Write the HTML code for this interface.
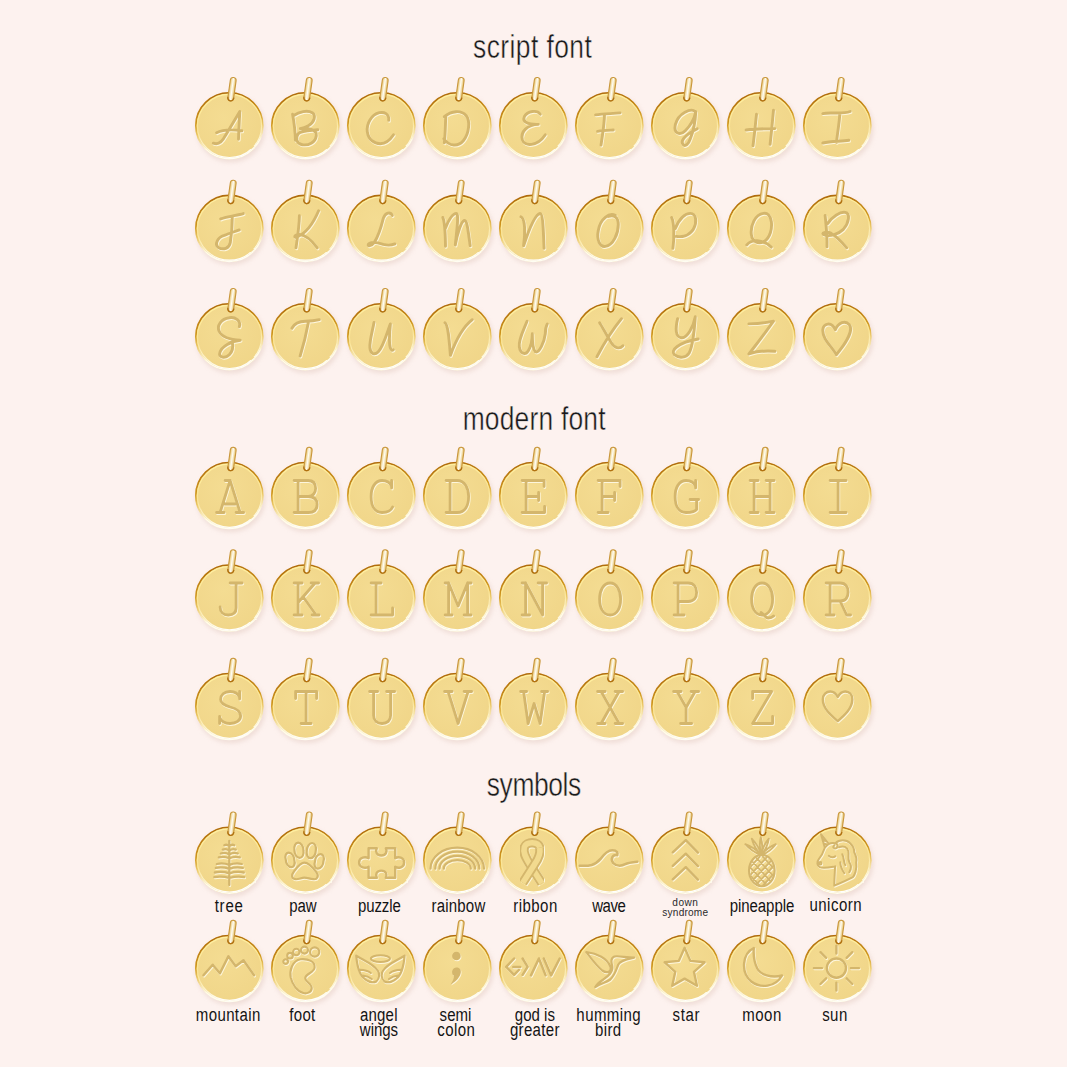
<!DOCTYPE html>
<html><head><meta charset="utf-8"><style>
html,body{margin:0;padding:0;background:#fdf2ef;width:1067px;height:1067px;overflow:hidden}
svg{display:block}

</style></head><body>
<svg width="1067" height="1067" viewBox="0 0 1067 1067">
<defs>
 <radialGradient id="face" cx="0.42" cy="0.38" r="0.7">
  <stop offset="0" stop-color="#f4dc92"/>
  <stop offset="1" stop-color="#f0d588"/>
 </radialGradient>
 <linearGradient id="rim" x1="0.4" y1="0.0" x2="0.58" y2="1.0">
  <stop offset="0" stop-color="#b06c0c"/>
  <stop offset="0.38" stop-color="#cf961f"/>
  <stop offset="0.56" stop-color="#ecc968"/>
  <stop offset="0.8" stop-color="#fffbea"/>
  <stop offset="1" stop-color="#fffdf2"/>
 </linearGradient>
 <linearGradient id="rim2" x1="0.4" y1="0.0" x2="0.58" y2="1.0">
  <stop offset="0" stop-color="#fff0a0"/>
  <stop offset="0.5" stop-color="#fbe596"/>
  <stop offset="1" stop-color="#ffffff"/>
 </linearGradient>
 <linearGradient id="bail" x1="0" y1="0" x2="1" y2="0">
  <stop offset="0" stop-color="#e6c26a"/>
  <stop offset="0.5" stop-color="#fffdf4"/>
  <stop offset="1" stop-color="#e3bd62"/>
 </linearGradient>
 <filter id="soft" x="-10%" y="-10%" width="120%" height="120%"><feGaussianBlur stdDeviation="0.45"/></filter>
 <filter id="hammer" x="-10%" y="-10%" width="120%" height="120%"><feTurbulence type="fractalNoise" baseFrequency="0.07" numOctaves="1" seed="5"/><feDisplacementMap in="SourceGraphic" scale="2.0" xChannelSelector="R" yChannelSelector="G"/></filter>
 <filter id="blur" x="-30%" y="-30%" width="160%" height="160%"><feGaussianBlur stdDeviation="2.2"/></filter>
 <g id="charm">
  <ellipse cx="1.5" cy="2.5" rx="35" ry="34.3" fill="#e6cfc6" opacity="0.55" filter="url(#blur)"/>
  <ellipse cx="0" cy="0" rx="34.0" ry="33.5" fill="url(#face)"/>
  <g filter="url(#hammer)" fill="none">
   <ellipse cx="0" cy="0" rx="33.5" ry="33.0" stroke="url(#rim)" stroke-width="1.6"/>
   <ellipse cx="0.2" cy="0.2" rx="32.1" ry="31.6" stroke="url(#rim2)" stroke-width="1.2"/>
  </g>
  <g transform="rotate(8 2.5 -36)">
   <rect x="-0.3" y="-48.3" width="5.8" height="23.6" rx="2.9" fill="url(#bail)" stroke="#c9973c" stroke-width="1.1"/>
   <path d="M -0.4,-28.5 C -0.3,-25.8 1.5,-24.8 2.6,-24.8 C 3.8,-24.8 5.6,-26 5.7,-28.5" fill="none" stroke="#b07010" stroke-width="1.3"/>
  </g>
 </g>
</defs>

<g transform="translate(532.40,57.60) scale(0.8,1)"><text x="0" y="0" text-anchor="middle" style="font-family:'Liberation Sans',sans-serif" font-size="33" fill="#1a1a1a" stroke="#fdf2ef" stroke-width="0.45" textLength="148.50" lengthAdjust="spacing">script font</text></g>
<g transform="translate(534.10,429.70) scale(0.8,1)"><text x="0" y="0" text-anchor="middle" style="font-family:'Liberation Sans',sans-serif" font-size="33" fill="#1a1a1a" stroke="#fdf2ef" stroke-width="0.45" textLength="178.65" lengthAdjust="spacing">modern font</text></g>
<g transform="translate(534.00,796.40) scale(0.8,1)"><text x="0" y="0" text-anchor="middle" style="font-family:'Liberation Sans',sans-serif" font-size="33" fill="#1a1a1a" stroke="#fdf2ef" stroke-width="0.45" textLength="117.95" lengthAdjust="spacing">symbols</text></g>
<use href="#charm" x="229.3" y="125.7"/>
<g transform="translate(230.00,126.70)" opacity="0.9" filter="url(#soft)"><path d="M -16,17.5 C -11,19.5 -7,16 -4,10 L 10.5,-14.2 C 10,-5 9.5,5 9.2,13.5 M -12.7,7 C -5,3 5,4 12.6,5" fill="none" stroke="#fffae6" stroke-width="2.9" stroke-linecap="round" stroke-linejoin="round"/></g><g transform="translate(229.30,125.70)" filter="url(#soft)"><path d="M -16,17.5 C -11,19.5 -7,16 -4,10 L 10.5,-14.2 C 10,-5 9.5,5 9.2,13.5 M -12.7,7 C -5,3 5,4 12.6,5" fill="none" stroke="#d4b66c" stroke-width="2.9" stroke-linecap="round" stroke-linejoin="round"/></g>
<use href="#charm" x="305.3" y="125.7"/>
<g transform="translate(306.00,126.70)" opacity="0.9" filter="url(#soft)"><path d="M -12.7,-11.5 C -11,-2 -10,8 -9.9,14.6 M -12,-10 C -6,-14 2,-16 7,-13 C 11,-10 9,-3 3,0 C -1,2 -5,3 -5,3 C 3,2 12,4 11,10 C 10,17 3,20 -3,19 C -9,18 -10,12 -7,8 C -4,5 5,5 12.5,4" fill="none" stroke="#fffae6" stroke-width="2.9" stroke-linecap="round" stroke-linejoin="round"/></g><g transform="translate(305.30,125.70)" filter="url(#soft)"><path d="M -12.7,-11.5 C -11,-2 -10,8 -9.9,14.6 M -12,-10 C -6,-14 2,-16 7,-13 C 11,-10 9,-3 3,0 C -1,2 -5,3 -5,3 C 3,2 12,4 11,10 C 10,17 3,20 -3,19 C -9,18 -10,12 -7,8 C -4,5 5,5 12.5,4" fill="none" stroke="#d4b66c" stroke-width="2.9" stroke-linecap="round" stroke-linejoin="round"/></g>
<use href="#charm" x="381.3" y="125.7"/>
<g transform="translate(382.00,126.70)" opacity="0.9" filter="url(#soft)"><path d="M 7.4,-5.3 C 8,-12 3,-14 -2,-13 C -10,-11 -15,-2 -14,6 C -13,14 -7,18 -1,18 C 4,18 9,14 12.2,9.1" fill="none" stroke="#fffae6" stroke-width="2.9" stroke-linecap="round" stroke-linejoin="round"/></g><g transform="translate(381.30,125.70)" filter="url(#soft)"><path d="M 7.4,-5.3 C 8,-12 3,-14 -2,-13 C -10,-11 -15,-2 -14,6 C -13,14 -7,18 -1,18 C 4,18 9,14 12.2,9.1" fill="none" stroke="#d4b66c" stroke-width="2.9" stroke-linecap="round" stroke-linejoin="round"/></g>
<use href="#charm" x="457.3" y="125.7"/>
<g transform="translate(458.00,126.70)" opacity="0.9" filter="url(#soft)"><path d="M -11.5,-10 C -12,0 -12,10 -13,17 M -13,-9 C -6,-15 4,-16 9,-10 C 13,-5 12,8 6,15 C 1,21 -8,21 -13.5,13" fill="none" stroke="#fffae6" stroke-width="2.9" stroke-linecap="round" stroke-linejoin="round"/></g><g transform="translate(457.30,125.70)" filter="url(#soft)"><path d="M -11.5,-10 C -12,0 -12,10 -13,17 M -13,-9 C -6,-15 4,-16 9,-10 C 13,-5 12,8 6,15 C 1,21 -8,21 -13.5,13" fill="none" stroke="#d4b66c" stroke-width="2.9" stroke-linecap="round" stroke-linejoin="round"/></g>
<use href="#charm" x="533.3" y="125.7"/>
<g transform="translate(534.00,126.70)" opacity="0.9" filter="url(#soft)"><path d="M 7,-11.5 C 4,-16 -6,-15 -9,-9 C -11,-4 -6,-1 5,-1.3 C -6,-1 -13,6 -11,14 C -9,21 4,21 12,9" fill="none" stroke="#fffae6" stroke-width="2.9" stroke-linecap="round" stroke-linejoin="round"/></g><g transform="translate(533.30,125.70)" filter="url(#soft)"><path d="M 7,-11.5 C 4,-16 -6,-15 -9,-9 C -11,-4 -6,-1 5,-1.3 C -6,-1 -13,6 -11,14 C -9,21 4,21 12,9" fill="none" stroke="#d4b66c" stroke-width="2.9" stroke-linecap="round" stroke-linejoin="round"/></g>
<use href="#charm" x="609.3" y="125.7"/>
<g transform="translate(610.00,126.70)" opacity="0.9" filter="url(#soft)"><path d="M -13.7,-10.8 C -6,-12 3,-12 10.8,-12.8 M -4.8,-11.4 C -5,0 -7,10 -8.3,19.4 M -11.7,5.7 C -6,4.5 0,4.5 4,4.3" fill="none" stroke="#fffae6" stroke-width="2.9" stroke-linecap="round" stroke-linejoin="round"/></g><g transform="translate(609.30,125.70)" filter="url(#soft)"><path d="M -13.7,-10.8 C -6,-12 3,-12 10.8,-12.8 M -4.8,-11.4 C -5,0 -7,10 -8.3,19.4 M -11.7,5.7 C -6,4.5 0,4.5 4,4.3" fill="none" stroke="#d4b66c" stroke-width="2.9" stroke-linecap="round" stroke-linejoin="round"/></g>
<use href="#charm" x="685.3" y="125.7"/>
<g transform="translate(686.00,126.70)" opacity="0.9" filter="url(#soft)"><path d="M 10,-14 C 6,-18 -7,-13 -10,-1 C -12,8 -5,10 0,5 C 5,0 9,-7 10.5,-14 C 10,-5 8,6 5,13 C 3,19 0,21 -2,19 C -5,16 -2,10 12,3" fill="none" stroke="#fffae6" stroke-width="2.9" stroke-linecap="round" stroke-linejoin="round"/></g><g transform="translate(685.30,125.70)" filter="url(#soft)"><path d="M 10,-14 C 6,-18 -7,-13 -10,-1 C -12,8 -5,10 0,5 C 5,0 9,-7 10.5,-14 C 10,-5 8,6 5,13 C 3,19 0,21 -2,19 C -5,16 -2,10 12,3" fill="none" stroke="#d4b66c" stroke-width="2.9" stroke-linecap="round" stroke-linejoin="round"/></g>
<use href="#charm" x="761.3" y="125.7"/>
<g transform="translate(762.00,126.70)" opacity="0.9" filter="url(#soft)"><path d="M -4.8,-11.4 C -6,0 -7,10 -8.3,20 M 12.2,-15.5 C 11,-3 10,8 8.8,18.7 M -15.2,4.3 C -6,3 4,3 13.6,2.9" fill="none" stroke="#fffae6" stroke-width="2.9" stroke-linecap="round" stroke-linejoin="round"/></g><g transform="translate(761.30,125.70)" filter="url(#soft)"><path d="M -4.8,-11.4 C -6,0 -7,10 -8.3,20 M 12.2,-15.5 C 11,-3 10,8 8.8,18.7 M -15.2,4.3 C -6,3 4,3 13.6,2.9" fill="none" stroke="#d4b66c" stroke-width="2.9" stroke-linecap="round" stroke-linejoin="round"/></g>
<use href="#charm" x="837.3" y="125.7"/>
<g transform="translate(838.00,126.70)" opacity="0.9" filter="url(#soft)"><path d="M -14.5,-12.1 C -8,-14 4,-11 12.9,-14.2 M 2.6,-12.8 C 2,-2 0,8 -0.8,16.6 M -14.5,17.3 C -6,15 4,16 11.5,14.6" fill="none" stroke="#fffae6" stroke-width="2.9" stroke-linecap="round" stroke-linejoin="round"/></g><g transform="translate(837.30,125.70)" filter="url(#soft)"><path d="M -14.5,-12.1 C -8,-14 4,-11 12.9,-14.2 M 2.6,-12.8 C 2,-2 0,8 -0.8,16.6 M -14.5,17.3 C -6,15 4,16 11.5,14.6" fill="none" stroke="#d4b66c" stroke-width="2.9" stroke-linecap="round" stroke-linejoin="round"/></g>
<use href="#charm" x="229.3" y="228.4"/>
<g transform="translate(230.00,229.40)" opacity="0.9" filter="url(#soft)"><path d="M -8.6,-9.5 C -3,-12 8,-13 14,-14.8 M 3,-12 C 3,-2 2,8 1,14 C 0,20 -6,22 -11,19 C -15,16 -12,9 -5,7 C 0,5 6,3 10,1.5" fill="none" stroke="#fffae6" stroke-width="2.9" stroke-linecap="round" stroke-linejoin="round"/></g><g transform="translate(229.30,228.40)" filter="url(#soft)"><path d="M -8.6,-9.5 C -3,-12 8,-13 14,-14.8 M 3,-12 C 3,-2 2,8 1,14 C 0,20 -6,22 -11,19 C -15,16 -12,9 -5,7 C 0,5 6,3 10,1.5" fill="none" stroke="#d4b66c" stroke-width="2.9" stroke-linecap="round" stroke-linejoin="round"/></g>
<use href="#charm" x="305.3" y="228.4"/>
<g transform="translate(306.00,229.40)" opacity="0.9" filter="url(#soft)"><path d="M -5.9,-12.7 C -6,-2 -8,10 -9.3,19.4 M 13.3,-17.6 C 8,-5 0,5 -8,8.5 C -12,10 -11,6 -6,6 C 2,7 8,14 12,19.5" fill="none" stroke="#fffae6" stroke-width="2.9" stroke-linecap="round" stroke-linejoin="round"/></g><g transform="translate(305.30,228.40)" filter="url(#soft)"><path d="M -5.9,-12.7 C -6,-2 -8,10 -9.3,19.4 M 13.3,-17.6 C 8,-5 0,5 -8,8.5 C -12,10 -11,6 -6,6 C 2,7 8,14 12,19.5" fill="none" stroke="#d4b66c" stroke-width="2.9" stroke-linecap="round" stroke-linejoin="round"/></g>
<use href="#charm" x="381.3" y="228.4"/>
<g transform="translate(382.00,229.40)" opacity="0.9" filter="url(#soft)"><path d="M 11,-13 C 9,-17 4,-16 2,-10 C 0,-2 -3,8 -7,14 C -10,18 -14,18 -13,16 C -11,13 -4,14 2,16 C 6,17 10,17 13.6,15.5" fill="none" stroke="#fffae6" stroke-width="2.9" stroke-linecap="round" stroke-linejoin="round"/></g><g transform="translate(381.30,228.40)" filter="url(#soft)"><path d="M 11,-13 C 9,-17 4,-16 2,-10 C 0,-2 -3,8 -7,14 C -10,18 -14,18 -13,16 C -11,13 -4,14 2,16 C 6,17 10,17 13.6,15.5" fill="none" stroke="#d4b66c" stroke-width="2.9" stroke-linecap="round" stroke-linejoin="round"/></g>
<use href="#charm" x="457.3" y="228.4"/>
<g transform="translate(458.00,229.40)" opacity="0.9" filter="url(#soft)"><path d="M -14.5,-11 C -12,-5 -12,8 -11.8,18 M -12,0 C -8,-10 -4,-15 -1,-15 C 2,-15 -1,6 -2,16.6 C 0,5 4,-7 7,-8 C 10,-9 11,5 12.9,17.3" fill="none" stroke="#fffae6" stroke-width="2.9" stroke-linecap="round" stroke-linejoin="round"/></g><g transform="translate(457.30,228.40)" filter="url(#soft)"><path d="M -14.5,-11 C -12,-5 -12,8 -11.8,18 M -12,0 C -8,-10 -4,-15 -1,-15 C 2,-15 -1,6 -2,16.6 C 0,5 4,-7 7,-8 C 10,-9 11,5 12.9,17.3" fill="none" stroke="#d4b66c" stroke-width="2.9" stroke-linecap="round" stroke-linejoin="round"/></g>
<use href="#charm" x="533.3" y="228.4"/>
<g transform="translate(534.00,229.40)" opacity="0.9" filter="url(#soft)"><path d="M -12.4,-11.6 C -8,-10 -8,5 -9.7,17.3 C -4,0 2,-14 6.7,-14.9 C 10,-15 10,5 10.8,20" fill="none" stroke="#fffae6" stroke-width="2.9" stroke-linecap="round" stroke-linejoin="round"/></g><g transform="translate(533.30,228.40)" filter="url(#soft)"><path d="M -12.4,-11.6 C -8,-10 -8,5 -9.7,17.3 C -4,0 2,-14 6.7,-14.9 C 10,-15 10,5 10.8,20" fill="none" stroke="#d4b66c" stroke-width="2.9" stroke-linecap="round" stroke-linejoin="round"/></g>
<use href="#charm" x="609.3" y="228.4"/>
<g transform="translate(610.00,229.40)" opacity="0.9" filter="url(#soft)"><path d="M 6,-13 C 0,-16 -9,-10 -11,2 C -13,12 -9,19 -4,18 C 4,17 9,5 9,-4 C 9,-11 5,-14 -1,-12" fill="none" stroke="#fffae6" stroke-width="2.9" stroke-linecap="round" stroke-linejoin="round"/></g><g transform="translate(609.30,228.40)" filter="url(#soft)"><path d="M 6,-13 C 0,-16 -9,-10 -11,2 C -13,12 -9,19 -4,18 C 4,17 9,5 9,-4 C 9,-11 5,-14 -1,-12" fill="none" stroke="#d4b66c" stroke-width="2.9" stroke-linecap="round" stroke-linejoin="round"/></g>
<use href="#charm" x="685.3" y="228.4"/>
<g transform="translate(686.00,229.40)" opacity="0.9" filter="url(#soft)"><path d="M -13.7,-10.9 C -11,-6 -11,10 -12.4,20 M -10,0 C -6,-10 0,-15 5,-15 C 11,-15 12,-6 8,1 C 4,7 -3,9 -9,8" fill="none" stroke="#fffae6" stroke-width="2.9" stroke-linecap="round" stroke-linejoin="round"/></g><g transform="translate(685.30,228.40)" filter="url(#soft)"><path d="M -13.7,-10.9 C -11,-6 -11,10 -12.4,20 M -10,0 C -6,-10 0,-15 5,-15 C 11,-15 12,-6 8,1 C 4,7 -3,9 -9,8" fill="none" stroke="#d4b66c" stroke-width="2.9" stroke-linecap="round" stroke-linejoin="round"/></g>
<use href="#charm" x="761.3" y="228.4"/>
<g transform="translate(762.00,229.40)" opacity="0.9" filter="url(#soft)"><path d="M 2,-15 C -6,-14 -11,-3 -10,6 C -9,14 -3,16 3,13 C 9,9 11,0 10,-7 C 9,-13 6,-16 2,-15 M -14.5,16.5 C -10,11 0,10 10,18.7" fill="none" stroke="#fffae6" stroke-width="2.9" stroke-linecap="round" stroke-linejoin="round"/></g><g transform="translate(761.30,228.40)" filter="url(#soft)"><path d="M 2,-15 C -6,-14 -11,-3 -10,6 C -9,14 -3,16 3,13 C 9,9 11,0 10,-7 C 9,-13 6,-16 2,-15 M -14.5,16.5 C -10,11 0,10 10,18.7" fill="none" stroke="#d4b66c" stroke-width="2.9" stroke-linecap="round" stroke-linejoin="round"/></g>
<use href="#charm" x="837.3" y="228.4"/>
<g transform="translate(838.00,229.40)" opacity="0.9" filter="url(#soft)"><path d="M -12.2,-13 C -11,-2 -10,10 -10.3,18.5 M -9.5,-5 C -5,-12 3,-17 8,-16 C 13,-15 12,-6 6,1 C 1,6 -8,9 -14,6 C -16,4 -10,3 -6,5 C -1,8 5,14 9.4,19.4" fill="none" stroke="#fffae6" stroke-width="2.9" stroke-linecap="round" stroke-linejoin="round"/></g><g transform="translate(837.30,228.40)" filter="url(#soft)"><path d="M -12.2,-13 C -11,-2 -10,10 -10.3,18.5 M -9.5,-5 C -5,-12 3,-17 8,-16 C 13,-15 12,-6 6,1 C 1,6 -8,9 -14,6 C -16,4 -10,3 -6,5 C -1,8 5,14 9.4,19.4" fill="none" stroke="#d4b66c" stroke-width="2.9" stroke-linecap="round" stroke-linejoin="round"/></g>
<use href="#charm" x="229.3" y="336.7"/>
<g transform="translate(230.00,337.70)" opacity="0.9" filter="url(#soft)"><path d="M 10,-10 C 12,-16 6,-20 0,-19 C -8,-18 -13,-11 -10,-5 C -7,1 0,3 11,3.5 C 2,4 -8,10 -9.5,16 C -11,21 -4,22 0,18 C 3,15 4,10 3,5" fill="none" stroke="#fffae6" stroke-width="2.9" stroke-linecap="round" stroke-linejoin="round"/></g><g transform="translate(229.30,336.70)" filter="url(#soft)"><path d="M 10,-10 C 12,-16 6,-20 0,-19 C -8,-18 -13,-11 -10,-5 C -7,1 0,3 11,3.5 C 2,4 -8,10 -9.5,16 C -11,21 -4,22 0,18 C 3,15 4,10 3,5" fill="none" stroke="#d4b66c" stroke-width="2.9" stroke-linecap="round" stroke-linejoin="round"/></g>
<use href="#charm" x="305.3" y="336.7"/>
<g transform="translate(306.00,337.70)" opacity="0.9" filter="url(#soft)"><path d="M -13.4,-8.5 C -11,-13 -6,-15.5 0,-15.5 C 5,-15.5 10,-16 14,-17 M 3,-14 C 1,-3 -2,9 -5.2,19.4" fill="none" stroke="#fffae6" stroke-width="2.9" stroke-linecap="round" stroke-linejoin="round"/></g><g transform="translate(305.30,336.70)" filter="url(#soft)"><path d="M -13.4,-8.5 C -11,-13 -6,-15.5 0,-15.5 C 5,-15.5 10,-16 14,-17 M 3,-14 C 1,-3 -2,9 -5.2,19.4" fill="none" stroke="#d4b66c" stroke-width="2.9" stroke-linecap="round" stroke-linejoin="round"/></g>
<use href="#charm" x="381.3" y="336.7"/>
<g transform="translate(382.00,337.70)" opacity="0.9" filter="url(#soft)"><path d="M -7.3,-14.2 C -9,-5 -12,5 -11.4,11 C -11,17 -7,19 -3,15 C 2,10 6,-5 9.1,-12.8 C 8,-2 8,8 9,11 C 10,14 11,14 12,13" fill="none" stroke="#fffae6" stroke-width="2.9" stroke-linecap="round" stroke-linejoin="round"/></g><g transform="translate(381.30,336.70)" filter="url(#soft)"><path d="M -7.3,-14.2 C -9,-5 -12,5 -11.4,11 C -11,17 -7,19 -3,15 C 2,10 6,-5 9.1,-12.8 C 8,-2 8,8 9,11 C 10,14 11,14 12,13" fill="none" stroke="#d4b66c" stroke-width="2.9" stroke-linecap="round" stroke-linejoin="round"/></g>
<use href="#charm" x="457.3" y="336.7"/>
<g transform="translate(458.00,337.70)" opacity="0.9" filter="url(#soft)"><path d="M -12.4,-14 C -9,-12 -8,5 -6.9,18.7 C -2,5 6,-10 15,-17" fill="none" stroke="#fffae6" stroke-width="2.9" stroke-linecap="round" stroke-linejoin="round"/></g><g transform="translate(457.30,336.70)" filter="url(#soft)"><path d="M -12.4,-14 C -9,-12 -8,5 -6.9,18.7 C -2,5 6,-10 15,-17" fill="none" stroke="#d4b66c" stroke-width="2.9" stroke-linecap="round" stroke-linejoin="round"/></g>
<use href="#charm" x="533.3" y="336.7"/>
<g transform="translate(534.00,337.70)" opacity="0.9" filter="url(#soft)"><path d="M -6.3,-15.5 C -10,-6 -15,3 -14,10 C -13,17 -8,19 -5,14 C -2,9 -1,2 -1,-3 C -1,5 0,13 2,15 C 6,17 11,5 12,-3 C 12,-8 13,-11 14,-12.8" fill="none" stroke="#fffae6" stroke-width="2.9" stroke-linecap="round" stroke-linejoin="round"/></g><g transform="translate(533.30,336.70)" filter="url(#soft)"><path d="M -6.3,-15.5 C -10,-6 -15,3 -14,10 C -13,17 -8,19 -5,14 C -2,9 -1,2 -1,-3 C -1,5 0,13 2,15 C 6,17 11,5 12,-3 C 12,-8 13,-11 14,-12.8" fill="none" stroke="#d4b66c" stroke-width="2.9" stroke-linecap="round" stroke-linejoin="round"/></g>
<use href="#charm" x="609.3" y="336.7"/>
<g transform="translate(610.00,337.70)" opacity="0.9" filter="url(#soft)"><path d="M -9.7,-14 C -6,-8 -2,0 2,6 C 5,11 10,13 13.6,9 M 12.2,-18 C 4,-8 -6,8 -12.4,20" fill="none" stroke="#fffae6" stroke-width="2.9" stroke-linecap="round" stroke-linejoin="round"/></g><g transform="translate(609.30,336.70)" filter="url(#soft)"><path d="M -9.7,-14 C -6,-8 -2,0 2,6 C 5,11 10,13 13.6,9 M 12.2,-18 C 4,-8 -6,8 -12.4,20" fill="none" stroke="#d4b66c" stroke-width="2.9" stroke-linecap="round" stroke-linejoin="round"/></g>
<use href="#charm" x="685.3" y="336.7"/>
<g transform="translate(686.00,337.70)" opacity="0.9" filter="url(#soft)"><path d="M -7.7,-18 C -10,-8 -10,0 -4,1 C 2,2 8,-10 10,-20 C 9,-5 7,10 4,16 C 1,21 -6,22 -11,18 C -15,14 -8,6 12.9,2.3" fill="none" stroke="#fffae6" stroke-width="2.9" stroke-linecap="round" stroke-linejoin="round"/></g><g transform="translate(685.30,336.70)" filter="url(#soft)"><path d="M -7.7,-18 C -10,-8 -10,0 -4,1 C 2,2 8,-10 10,-20 C 9,-5 7,10 4,16 C 1,21 -6,22 -11,18 C -15,14 -8,6 12.9,2.3" fill="none" stroke="#d4b66c" stroke-width="2.9" stroke-linecap="round" stroke-linejoin="round"/></g>
<use href="#charm" x="761.3" y="336.7"/>
<g transform="translate(762.00,337.70)" opacity="0.9" filter="url(#soft)"><path d="M -12.4,-12.8 C -5,-13 5,-14 12.2,-15.5 C 4,-4 -5,8 -12.4,17.3 C -4,14 5,14 13.6,14.6" fill="none" stroke="#fffae6" stroke-width="2.9" stroke-linecap="round" stroke-linejoin="round"/></g><g transform="translate(761.30,336.70)" filter="url(#soft)"><path d="M -12.4,-12.8 C -5,-13 5,-14 12.2,-15.5 C 4,-4 -5,8 -12.4,17.3 C -4,14 5,14 13.6,14.6" fill="none" stroke="#d4b66c" stroke-width="2.9" stroke-linecap="round" stroke-linejoin="round"/></g>
<use href="#charm" x="837.3" y="336.7"/>
<g transform="translate(838.00,337.70)" opacity="0.9" filter="url(#soft)"><path d="M -1,18 C -5,10 -15,3 -14.5,-7 C -14,-13 -6,-16 -2,-7 C 1,-14 8,-17 12,-12 C 16,-7 10,5 -1,18" fill="none" stroke="#fffae6" stroke-width="2.9" stroke-linecap="round" stroke-linejoin="round"/></g><g transform="translate(837.30,336.70)" filter="url(#soft)"><path d="M -1,18 C -5,10 -15,3 -14.5,-7 C -14,-13 -6,-16 -2,-7 C 1,-14 8,-17 12,-12 C 16,-7 10,5 -1,18" fill="none" stroke="#d4b66c" stroke-width="2.9" stroke-linecap="round" stroke-linejoin="round"/></g>
<use href="#charm" x="229.3" y="495.5"/>
<g transform="translate(0.8,0)"><g transform="translate(230.00,496.50)" opacity="0.9" filter="url(#soft)"><path d="M 0,-15.0 L -10,17.0 M 0,-15.0 L 10,17.0 M -5.4,8.5 L 5.4,8.5 M -13.5,17.0 L -6,17.0 M 6,17.0 L 13.5,17.0 M -5,-15.0 L 0,-15.0 " fill="none" stroke="#fffae6" stroke-width="2.8" stroke-linecap="round" stroke-linejoin="round"/></g><g transform="translate(229.30,495.50)" filter="url(#soft)"><path d="M 0,-15.0 L -10,17.0 M 0,-15.0 L 10,17.0 M -5.4,8.5 L 5.4,8.5 M -13.5,17.0 L -6,17.0 M 6,17.0 L 13.5,17.0 M -5,-15.0 L 0,-15.0 " fill="none" stroke="#d4b66c" stroke-width="2.8" stroke-linecap="round" stroke-linejoin="round"/></g></g>
<use href="#charm" x="305.3" y="495.5"/>
<g transform="translate(0.8,0)"><g transform="translate(306.00,496.50)" opacity="0.9" filter="url(#soft)"><path d="M -8,-15.0 L -8,17.0 M -12,-15.0 L -8,-15.0 M -12,17.0 L -8,17.0 M -8,-15.0 L 2,-15.0 C 8,-15.0 9.5,-11 9.5,-7 C 9.5,-3 7,1.0 2,1.0 L -8,1.0 M 2,1.0 C 9,1.0 11,4.5 11,9 C 11,14 8,17.0 2.5,17.0 L -8,17.0 " fill="none" stroke="#fffae6" stroke-width="2.8" stroke-linecap="round" stroke-linejoin="round"/></g><g transform="translate(305.30,495.50)" filter="url(#soft)"><path d="M -8,-15.0 L -8,17.0 M -12,-15.0 L -8,-15.0 M -12,17.0 L -8,17.0 M -8,-15.0 L 2,-15.0 C 8,-15.0 9.5,-11 9.5,-7 C 9.5,-3 7,1.0 2,1.0 L -8,1.0 M 2,1.0 C 9,1.0 11,4.5 11,9 C 11,14 8,17.0 2.5,17.0 L -8,17.0 " fill="none" stroke="#d4b66c" stroke-width="2.8" stroke-linecap="round" stroke-linejoin="round"/></g></g>
<use href="#charm" x="381.3" y="495.5"/>
<g transform="translate(0.8,0)"><g transform="translate(382.00,496.50)" opacity="0.9" filter="url(#soft)"><path d="M 9.5,-9 C 8,-13 4,-15.0 0,-15.0 C -7,-15.0 -11,-8 -11,1.0 C -11,11 -7,17.0 0,17.0 C 5,17.0 9,15 10.5,11.5 M 9.5,-15.0 L 9.5,-7.5 " fill="none" stroke="#fffae6" stroke-width="2.8" stroke-linecap="round" stroke-linejoin="round"/></g><g transform="translate(381.30,495.50)" filter="url(#soft)"><path d="M 9.5,-9 C 8,-13 4,-15.0 0,-15.0 C -7,-15.0 -11,-8 -11,1.0 C -11,11 -7,17.0 0,17.0 C 5,17.0 9,15 10.5,11.5 M 9.5,-15.0 L 9.5,-7.5 " fill="none" stroke="#d4b66c" stroke-width="2.8" stroke-linecap="round" stroke-linejoin="round"/></g></g>
<use href="#charm" x="457.3" y="495.5"/>
<g transform="translate(0.8,0)"><g transform="translate(458.00,496.50)" opacity="0.9" filter="url(#soft)"><path d="M -8,-15.0 L -8,17.0 M -12,-15.0 L -8,-15.0 M -12,17.0 L -8,17.0 M -8,-15.0 L -1,-15.0 C 7,-15.0 10.5,-7 10.5,1.0 C 10.5,10 7,17.0 -1,17.0 L -8,17.0 " fill="none" stroke="#fffae6" stroke-width="2.8" stroke-linecap="round" stroke-linejoin="round"/></g><g transform="translate(457.30,495.50)" filter="url(#soft)"><path d="M -8,-15.0 L -8,17.0 M -12,-15.0 L -8,-15.0 M -12,17.0 L -8,17.0 M -8,-15.0 L -1,-15.0 C 7,-15.0 10.5,-7 10.5,1.0 C 10.5,10 7,17.0 -1,17.0 L -8,17.0 " fill="none" stroke="#d4b66c" stroke-width="2.8" stroke-linecap="round" stroke-linejoin="round"/></g></g>
<use href="#charm" x="533.3" y="495.5"/>
<g transform="translate(0.8,0)"><g transform="translate(534.00,496.50)" opacity="0.9" filter="url(#soft)"><path d="M -8,-15.0 L -8,17.0 M -12,-15.0 L 10,-15.0 L 10,-9 M -8,1.0 L 4.5,1.0 M 4.5,-3 L 4.5,5 M -12,17.0 L 10.5,17.0 L 10.5,11 " fill="none" stroke="#fffae6" stroke-width="2.8" stroke-linecap="round" stroke-linejoin="round"/></g><g transform="translate(533.30,495.50)" filter="url(#soft)"><path d="M -8,-15.0 L -8,17.0 M -12,-15.0 L 10,-15.0 L 10,-9 M -8,1.0 L 4.5,1.0 M 4.5,-3 L 4.5,5 M -12,17.0 L 10.5,17.0 L 10.5,11 " fill="none" stroke="#d4b66c" stroke-width="2.8" stroke-linecap="round" stroke-linejoin="round"/></g></g>
<use href="#charm" x="609.3" y="495.5"/>
<g transform="translate(0.8,0)"><g transform="translate(610.00,496.50)" opacity="0.9" filter="url(#soft)"><path d="M -8,-15.0 L -8,17.0 M -12,-15.0 L 10,-15.0 L 10,-9 M -8,1.0 L 4.5,1.0 M 4.5,-3 L 4.5,5 M -12,17.0 L -2,17.0 " fill="none" stroke="#fffae6" stroke-width="2.8" stroke-linecap="round" stroke-linejoin="round"/></g><g transform="translate(609.30,495.50)" filter="url(#soft)"><path d="M -8,-15.0 L -8,17.0 M -12,-15.0 L 10,-15.0 L 10,-9 M -8,1.0 L 4.5,1.0 M 4.5,-3 L 4.5,5 M -12,17.0 L -2,17.0 " fill="none" stroke="#d4b66c" stroke-width="2.8" stroke-linecap="round" stroke-linejoin="round"/></g></g>
<use href="#charm" x="685.3" y="495.5"/>
<g transform="translate(0.8,0)"><g transform="translate(686.00,496.50)" opacity="0.9" filter="url(#soft)"><path d="M 9.5,-9 C 8,-13 4,-15.0 0,-15.0 C -7,-15.0 -11,-8 -11,1.0 C -11,11 -7,17.0 0,17.0 C 5,17.0 9.5,15.5 10.5,14 L 10.5,4 M 4,4 L 12.5,4 M 9.5,-15.0 L 9.5,-7.5 " fill="none" stroke="#fffae6" stroke-width="2.8" stroke-linecap="round" stroke-linejoin="round"/></g><g transform="translate(685.30,495.50)" filter="url(#soft)"><path d="M 9.5,-9 C 8,-13 4,-15.0 0,-15.0 C -7,-15.0 -11,-8 -11,1.0 C -11,11 -7,17.0 0,17.0 C 5,17.0 9.5,15.5 10.5,14 L 10.5,4 M 4,4 L 12.5,4 M 9.5,-15.0 L 9.5,-7.5 " fill="none" stroke="#d4b66c" stroke-width="2.8" stroke-linecap="round" stroke-linejoin="round"/></g></g>
<use href="#charm" x="761.3" y="495.5"/>
<g transform="translate(0.8,0)"><g transform="translate(762.00,496.50)" opacity="0.9" filter="url(#soft)"><path d="M -8,-15.0 L -8,17.0 M 8,-15.0 L 8,17.0 M -8,1.0 L 8,1.0 M -12,-15.0 L -4,-15.0 M 4,-15.0 L 12,-15.0 M -12,17.0 L -4,17.0 M 4,17.0 L 12,17.0 " fill="none" stroke="#fffae6" stroke-width="2.8" stroke-linecap="round" stroke-linejoin="round"/></g><g transform="translate(761.30,495.50)" filter="url(#soft)"><path d="M -8,-15.0 L -8,17.0 M 8,-15.0 L 8,17.0 M -8,1.0 L 8,1.0 M -12,-15.0 L -4,-15.0 M 4,-15.0 L 12,-15.0 M -12,17.0 L -4,17.0 M 4,17.0 L 12,17.0 " fill="none" stroke="#d4b66c" stroke-width="2.8" stroke-linecap="round" stroke-linejoin="round"/></g></g>
<use href="#charm" x="837.3" y="495.5"/>
<g transform="translate(0.8,0)"><g transform="translate(838.00,496.50)" opacity="0.9" filter="url(#soft)"><path d="M 0,-15.0 L 0,17.0 M -8,-15.0 L 8,-15.0 M -8,17.0 L 8,17.0 " fill="none" stroke="#fffae6" stroke-width="2.8" stroke-linecap="round" stroke-linejoin="round"/></g><g transform="translate(837.30,495.50)" filter="url(#soft)"><path d="M 0,-15.0 L 0,17.0 M -8,-15.0 L 8,-15.0 M -8,17.0 L 8,17.0 " fill="none" stroke="#d4b66c" stroke-width="2.8" stroke-linecap="round" stroke-linejoin="round"/></g></g>
<use href="#charm" x="229.3" y="598.0"/>
<g transform="translate(0.8,0)"><g transform="translate(230.00,599.00)" opacity="0.9" filter="url(#soft)"><path d="M 6,-15.0 L 6,10 C 6,15 3,17.0 -2,17.0 C -7,17.0 -10,14 -10,9 M 0,-15.0 L 12,-15.0 " fill="none" stroke="#fffae6" stroke-width="2.8" stroke-linecap="round" stroke-linejoin="round"/></g><g transform="translate(229.30,598.00)" filter="url(#soft)"><path d="M 6,-15.0 L 6,10 C 6,15 3,17.0 -2,17.0 C -7,17.0 -10,14 -10,9 M 0,-15.0 L 12,-15.0 " fill="none" stroke="#d4b66c" stroke-width="2.8" stroke-linecap="round" stroke-linejoin="round"/></g></g>
<use href="#charm" x="305.3" y="598.0"/>
<g transform="translate(0.8,0)"><g transform="translate(306.00,599.00)" opacity="0.9" filter="url(#soft)"><path d="M -8,-15.0 L -8,17.0 M 9,-15.0 L -8,4.5 M -2.5,-0.5 L 10,17.0 M -12,-15.0 L -4,-15.0 M 5,-15.0 L 12.5,-15.0 M -12,17.0 L -4,17.0 M 6,17.0 L 13,17.0 " fill="none" stroke="#fffae6" stroke-width="2.8" stroke-linecap="round" stroke-linejoin="round"/></g><g transform="translate(305.30,598.00)" filter="url(#soft)"><path d="M -8,-15.0 L -8,17.0 M 9,-15.0 L -8,4.5 M -2.5,-0.5 L 10,17.0 M -12,-15.0 L -4,-15.0 M 5,-15.0 L 12.5,-15.0 M -12,17.0 L -4,17.0 M 6,17.0 L 13,17.0 " fill="none" stroke="#d4b66c" stroke-width="2.8" stroke-linecap="round" stroke-linejoin="round"/></g></g>
<use href="#charm" x="381.3" y="598.0"/>
<g transform="translate(0.8,0)"><g transform="translate(382.00,599.00)" opacity="0.9" filter="url(#soft)"><path d="M -6,-15.0 L -6,17.0 M -11,-15.0 L -1,-15.0 M -11,17.0 L 10.5,17.0 L 10.5,10 " fill="none" stroke="#fffae6" stroke-width="2.8" stroke-linecap="round" stroke-linejoin="round"/></g><g transform="translate(381.30,598.00)" filter="url(#soft)"><path d="M -6,-15.0 L -6,17.0 M -11,-15.0 L -1,-15.0 M -11,17.0 L 10.5,17.0 L 10.5,10 " fill="none" stroke="#d4b66c" stroke-width="2.8" stroke-linecap="round" stroke-linejoin="round"/></g></g>
<use href="#charm" x="457.3" y="598.0"/>
<g transform="translate(0.8,0)"><g transform="translate(458.00,599.00)" opacity="0.9" filter="url(#soft)"><path d="M -9.5,-15.0 L -9.5,17.0 M 9.5,-15.0 L 9.5,17.0 M -9.5,-15.0 L 0,8 L 9.5,-15.0 M -13,-15.0 L -9.5,-15.0 M 9.5,-15.0 L 13,-15.0 M -13,17.0 L -6,17.0 M 6,17.0 L 13,17.0 " fill="none" stroke="#fffae6" stroke-width="2.8" stroke-linecap="round" stroke-linejoin="round"/></g><g transform="translate(457.30,598.00)" filter="url(#soft)"><path d="M -9.5,-15.0 L -9.5,17.0 M 9.5,-15.0 L 9.5,17.0 M -9.5,-15.0 L 0,8 L 9.5,-15.0 M -13,-15.0 L -9.5,-15.0 M 9.5,-15.0 L 13,-15.0 M -13,17.0 L -6,17.0 M 6,17.0 L 13,17.0 " fill="none" stroke="#d4b66c" stroke-width="2.8" stroke-linecap="round" stroke-linejoin="round"/></g></g>
<use href="#charm" x="533.3" y="598.0"/>
<g transform="translate(0.8,0)"><g transform="translate(534.00,599.00)" opacity="0.9" filter="url(#soft)"><path d="M -8.5,-15.0 L -8.5,17.0 M 8.5,-15.0 L 8.5,17.0 M -8.5,-15.0 L 8.5,17.0 M -12,-15.0 L -8.5,-15.0 M 4,-15.0 L 12.5,-15.0 M -12,17.0 L -4.5,17.0 " fill="none" stroke="#fffae6" stroke-width="2.8" stroke-linecap="round" stroke-linejoin="round"/></g><g transform="translate(533.30,598.00)" filter="url(#soft)"><path d="M -8.5,-15.0 L -8.5,17.0 M 8.5,-15.0 L 8.5,17.0 M -8.5,-15.0 L 8.5,17.0 M -12,-15.0 L -8.5,-15.0 M 4,-15.0 L 12.5,-15.0 M -12,17.0 L -4.5,17.0 " fill="none" stroke="#d4b66c" stroke-width="2.8" stroke-linecap="round" stroke-linejoin="round"/></g></g>
<use href="#charm" x="609.3" y="598.0"/>
<g transform="translate(0.8,0)"><g transform="translate(610.00,599.00)" opacity="0.9" filter="url(#soft)"><path d="M 0,-15.0 C 7,-15.0 10.5,-7 10.5,1.0 C 10.5,10 7,17.0 0,17.0 C -7,17.0 -10.5,10 -10.5,1.0 C -10.5,-7 -7,-15.0 0,-15.0 Z " fill="none" stroke="#fffae6" stroke-width="2.8" stroke-linecap="round" stroke-linejoin="round"/></g><g transform="translate(609.30,598.00)" filter="url(#soft)"><path d="M 0,-15.0 C 7,-15.0 10.5,-7 10.5,1.0 C 10.5,10 7,17.0 0,17.0 C -7,17.0 -10.5,10 -10.5,1.0 C -10.5,-7 -7,-15.0 0,-15.0 Z " fill="none" stroke="#d4b66c" stroke-width="2.8" stroke-linecap="round" stroke-linejoin="round"/></g></g>
<use href="#charm" x="685.3" y="598.0"/>
<g transform="translate(0.8,0)"><g transform="translate(686.00,599.00)" opacity="0.9" filter="url(#soft)"><path d="M -8,-15.0 L -8,17.0 M -12,-15.0 L -8,-15.0 M -12,17.0 L -2,17.0 M -8,-15.0 L 2,-15.0 C 8,-15.0 10.5,-10.5 10.5,-5.5 C 10.5,-0.5 8,3.5 2,3.5 L -8,3.5 " fill="none" stroke="#fffae6" stroke-width="2.8" stroke-linecap="round" stroke-linejoin="round"/></g><g transform="translate(685.30,598.00)" filter="url(#soft)"><path d="M -8,-15.0 L -8,17.0 M -12,-15.0 L -8,-15.0 M -12,17.0 L -2,17.0 M -8,-15.0 L 2,-15.0 C 8,-15.0 10.5,-10.5 10.5,-5.5 C 10.5,-0.5 8,3.5 2,3.5 L -8,3.5 " fill="none" stroke="#d4b66c" stroke-width="2.8" stroke-linecap="round" stroke-linejoin="round"/></g></g>
<use href="#charm" x="761.3" y="598.0"/>
<g transform="translate(0.8,0)"><g transform="translate(762.00,599.00)" opacity="0.9" filter="url(#soft)"><path d="M 0,-15.0 C 7,-15.0 10.5,-7 10.5,1.0 C 10.5,10 7,17.0 0,17.0 C -7,17.0 -10.5,10 -10.5,1.0 C -10.5,-7 -7,-15.0 0,-15.0 Z M -1,14.5 C 2,16 3,20 6,20 C 8,20 10,19.5 11.5,18 " fill="none" stroke="#fffae6" stroke-width="2.8" stroke-linecap="round" stroke-linejoin="round"/></g><g transform="translate(761.30,598.00)" filter="url(#soft)"><path d="M 0,-15.0 C 7,-15.0 10.5,-7 10.5,1.0 C 10.5,10 7,17.0 0,17.0 C -7,17.0 -10.5,10 -10.5,1.0 C -10.5,-7 -7,-15.0 0,-15.0 Z M -1,14.5 C 2,16 3,20 6,20 C 8,20 10,19.5 11.5,18 " fill="none" stroke="#d4b66c" stroke-width="2.8" stroke-linecap="round" stroke-linejoin="round"/></g></g>
<use href="#charm" x="837.3" y="598.0"/>
<g transform="translate(0.8,0)"><g transform="translate(838.00,599.00)" opacity="0.9" filter="url(#soft)"><path d="M -8,-15.0 L -8,17.0 M -12,-15.0 L -8,-15.0 M -12,17.0 L -4,17.0 M -8,-15.0 L 2,-15.0 C 8,-15.0 10,-10.5 10,-6 C 10,-1 8,3 2,3 L -8,3 M 2,3 L 8.5,17.0 L 12.5,17.0 " fill="none" stroke="#fffae6" stroke-width="2.8" stroke-linecap="round" stroke-linejoin="round"/></g><g transform="translate(837.30,598.00)" filter="url(#soft)"><path d="M -8,-15.0 L -8,17.0 M -12,-15.0 L -8,-15.0 M -12,17.0 L -4,17.0 M -8,-15.0 L 2,-15.0 C 8,-15.0 10,-10.5 10,-6 C 10,-1 8,3 2,3 L -8,3 M 2,3 L 8.5,17.0 L 12.5,17.0 " fill="none" stroke="#d4b66c" stroke-width="2.8" stroke-linecap="round" stroke-linejoin="round"/></g></g>
<use href="#charm" x="229.3" y="706.5"/>
<g transform="translate(0.8,0)"><g transform="translate(230.00,707.50)" opacity="0.9" filter="url(#soft)"><path d="M 9.5,-9 C 8,-13 4,-15.0 0,-15.0 C -6,-15.0 -9.5,-11.5 -9.5,-7 C -9.5,-3 -5,-1 0,0.5 C 6,2 10.5,5 10.5,9.5 C 10.5,14 6,17.0 0,17.0 C -5,17.0 -9,14.5 -10.5,11 M 9.5,-15.0 L 9.5,-7.5 M -10.5,17.0 L -10.5,10 " fill="none" stroke="#fffae6" stroke-width="2.8" stroke-linecap="round" stroke-linejoin="round"/></g><g transform="translate(229.30,706.50)" filter="url(#soft)"><path d="M 9.5,-9 C 8,-13 4,-15.0 0,-15.0 C -6,-15.0 -9.5,-11.5 -9.5,-7 C -9.5,-3 -5,-1 0,0.5 C 6,2 10.5,5 10.5,9.5 C 10.5,14 6,17.0 0,17.0 C -5,17.0 -9,14.5 -10.5,11 M 9.5,-15.0 L 9.5,-7.5 M -10.5,17.0 L -10.5,10 " fill="none" stroke="#d4b66c" stroke-width="2.8" stroke-linecap="round" stroke-linejoin="round"/></g></g>
<use href="#charm" x="305.3" y="706.5"/>
<g transform="translate(0.8,0)"><g transform="translate(306.00,707.50)" opacity="0.9" filter="url(#soft)"><path d="M 0,-15.0 L 0,17.0 M -10.5,-8 L -10.5,-15.0 L 10.5,-15.0 L 10.5,-8 M -5,17.0 L 5,17.0 " fill="none" stroke="#fffae6" stroke-width="2.8" stroke-linecap="round" stroke-linejoin="round"/></g><g transform="translate(305.30,706.50)" filter="url(#soft)"><path d="M 0,-15.0 L 0,17.0 M -10.5,-8 L -10.5,-15.0 L 10.5,-15.0 L 10.5,-8 M -5,17.0 L 5,17.0 " fill="none" stroke="#d4b66c" stroke-width="2.8" stroke-linecap="round" stroke-linejoin="round"/></g></g>
<use href="#charm" x="381.3" y="706.5"/>
<g transform="translate(0.8,0)"><g transform="translate(382.00,707.50)" opacity="0.9" filter="url(#soft)"><path d="M -8.5,-15.0 L -8.5,9 C -8.5,14 -5,17.0 0,17.0 C 5,17.0 8.5,14 8.5,9 L 8.5,-15.0 M -12.5,-15.0 L -4.5,-15.0 M 4.5,-15.0 L 12.5,-15.0 " fill="none" stroke="#fffae6" stroke-width="2.8" stroke-linecap="round" stroke-linejoin="round"/></g><g transform="translate(381.30,706.50)" filter="url(#soft)"><path d="M -8.5,-15.0 L -8.5,9 C -8.5,14 -5,17.0 0,17.0 C 5,17.0 8.5,14 8.5,9 L 8.5,-15.0 M -12.5,-15.0 L -4.5,-15.0 M 4.5,-15.0 L 12.5,-15.0 " fill="none" stroke="#d4b66c" stroke-width="2.8" stroke-linecap="round" stroke-linejoin="round"/></g></g>
<use href="#charm" x="457.3" y="706.5"/>
<g transform="translate(0.8,0)"><g transform="translate(458.00,707.50)" opacity="0.9" filter="url(#soft)"><path d="M -10,-15.0 L 0,17.0 L 10,-15.0 M -13.5,-15.0 L -6,-15.0 M 6,-15.0 L 13.5,-15.0 " fill="none" stroke="#fffae6" stroke-width="2.8" stroke-linecap="round" stroke-linejoin="round"/></g><g transform="translate(457.30,706.50)" filter="url(#soft)"><path d="M -10,-15.0 L 0,17.0 L 10,-15.0 M -13.5,-15.0 L -6,-15.0 M 6,-15.0 L 13.5,-15.0 " fill="none" stroke="#d4b66c" stroke-width="2.8" stroke-linecap="round" stroke-linejoin="round"/></g></g>
<use href="#charm" x="533.3" y="706.5"/>
<g transform="translate(0.8,0)"><g transform="translate(534.00,707.50)" opacity="0.9" filter="url(#soft)"><path d="M -10.5,-15.0 L -6,17.0 L 0,-3 L 6,17.0 L 10.5,-15.0 M -13.5,-15.0 L -7.5,-15.0 M 7.5,-15.0 L 13.5,-15.0 " fill="none" stroke="#fffae6" stroke-width="2.8" stroke-linecap="round" stroke-linejoin="round"/></g><g transform="translate(533.30,706.50)" filter="url(#soft)"><path d="M -10.5,-15.0 L -6,17.0 L 0,-3 L 6,17.0 L 10.5,-15.0 M -13.5,-15.0 L -7.5,-15.0 M 7.5,-15.0 L 13.5,-15.0 " fill="none" stroke="#d4b66c" stroke-width="2.8" stroke-linecap="round" stroke-linejoin="round"/></g></g>
<use href="#charm" x="609.3" y="706.5"/>
<g transform="translate(0.8,0)"><g transform="translate(610.00,707.50)" opacity="0.9" filter="url(#soft)"><path d="M -9,-15.0 L 9,17.0 M 9,-15.0 L -9,17.0 M -12.5,-15.0 L -5,-15.0 M 5,-15.0 L 12.5,-15.0 M -12.5,17.0 L -5,17.0 M 5,17.0 L 12.5,17.0 " fill="none" stroke="#fffae6" stroke-width="2.8" stroke-linecap="round" stroke-linejoin="round"/></g><g transform="translate(609.30,706.50)" filter="url(#soft)"><path d="M -9,-15.0 L 9,17.0 M 9,-15.0 L -9,17.0 M -12.5,-15.0 L -5,-15.0 M 5,-15.0 L 12.5,-15.0 M -12.5,17.0 L -5,17.0 M 5,17.0 L 12.5,17.0 " fill="none" stroke="#d4b66c" stroke-width="2.8" stroke-linecap="round" stroke-linejoin="round"/></g></g>
<use href="#charm" x="685.3" y="706.5"/>
<g transform="translate(0.8,0)"><g transform="translate(686.00,707.50)" opacity="0.9" filter="url(#soft)"><path d="M -9,-15.0 L 0,1.0 L 9,-15.0 M 0,1.0 L 0,17.0 M -12.5,-15.0 L -5,-15.0 M 5,-15.0 L 12.5,-15.0 M -5.5,17.0 L 5.5,17.0 " fill="none" stroke="#fffae6" stroke-width="2.8" stroke-linecap="round" stroke-linejoin="round"/></g><g transform="translate(685.30,706.50)" filter="url(#soft)"><path d="M -9,-15.0 L 0,1.0 L 9,-15.0 M 0,1.0 L 0,17.0 M -12.5,-15.0 L -5,-15.0 M 5,-15.0 L 12.5,-15.0 M -5.5,17.0 L 5.5,17.0 " fill="none" stroke="#d4b66c" stroke-width="2.8" stroke-linecap="round" stroke-linejoin="round"/></g></g>
<use href="#charm" x="761.3" y="706.5"/>
<g transform="translate(0.8,0)"><g transform="translate(762.00,707.50)" opacity="0.9" filter="url(#soft)"><path d="M -9.5,-8 L -9.5,-15.0 L 9.5,-15.0 L -9.5,17.0 L 10.5,17.0 L 10.5,10 " fill="none" stroke="#fffae6" stroke-width="2.8" stroke-linecap="round" stroke-linejoin="round"/></g><g transform="translate(761.30,706.50)" filter="url(#soft)"><path d="M -9.5,-8 L -9.5,-15.0 L 9.5,-15.0 L -9.5,17.0 L 10.5,17.0 L 10.5,10 " fill="none" stroke="#d4b66c" stroke-width="2.8" stroke-linecap="round" stroke-linejoin="round"/></g></g>
<use href="#charm" x="837.3" y="706.5"/>
<g transform="translate(838.00,707.50)" opacity="0.9" filter="url(#soft)"><path d="M 0.5,14.6 C -6,9 -14.5,2 -14.5,-7 C -14.5,-12 -11,-15 -7,-15 C -3.5,-15 -1,-12.5 0.5,-9.5 C 2,-12.5 4.5,-15 8,-15 C 12,-15 15,-12 15,-7 C 15,2 7,9 0.5,14.6 Z" fill="none" stroke="#fffae6" stroke-width="2.4" stroke-linecap="round" stroke-linejoin="round"/></g><g transform="translate(837.30,706.50)" filter="url(#soft)"><path d="M 0.5,14.6 C -6,9 -14.5,2 -14.5,-7 C -14.5,-12 -11,-15 -7,-15 C -3.5,-15 -1,-12.5 0.5,-9.5 C 2,-12.5 4.5,-15 8,-15 C 12,-15 15,-12 15,-7 C 15,2 7,9 0.5,14.6 Z" fill="none" stroke="#d4b66c" stroke-width="2.4" stroke-linecap="round" stroke-linejoin="round"/></g>
<use href="#charm" x="229.3" y="860.2"/>
<g transform="translate(230.00,861.20)" opacity="0.9" filter="url(#soft)"><path d="M 0,-19.4 L 0,24.9 M 0,-14.0 Q -2.5,-16.3 -5,-14.9 M 0,-14.0 Q 2.5,-16.3 5,-14.9 M 0,-9.7 Q -3.25,-12.0 -6.5,-10.6 M 0,-9.7 Q 3.25,-12.0 6.5,-10.6 M 0,-5.8 Q -4.25,-8.1 -8.5,-6.7 M 0,-5.8 Q 4.25,-8.1 8.5,-6.7 M 0,-1.9 Q -5.25,-4.2 -10.5,-2.8 M 0,-1.9 Q 5.25,-4.2 10.5,-2.8 M 0,4.7 Q -6.25,2.4000000000000004 -12.5,3.8000000000000003 M 0,4.7 Q 6.25,2.4000000000000004 12.5,3.8000000000000003 M 0,8.6 Q -6.75,6.3 -13.5,7.699999999999999 M 0,8.6 Q 6.75,6.3 13.5,7.699999999999999 M 0,13.2 Q -7.25,10.899999999999999 -14.5,12.299999999999999 M 0,13.2 Q 7.25,10.899999999999999 14.5,12.299999999999999 M 0,17.8 Q -7.5,15.5 -15,16.900000000000002 M 0,17.8 Q 7.5,15.5 15,16.900000000000002 " fill="none" stroke="#fffae6" stroke-width="2.3" stroke-linecap="round" stroke-linejoin="round"/></g><g transform="translate(229.30,860.20)" filter="url(#soft)"><path d="M 0,-19.4 L 0,24.9 M 0,-14.0 Q -2.5,-16.3 -5,-14.9 M 0,-14.0 Q 2.5,-16.3 5,-14.9 M 0,-9.7 Q -3.25,-12.0 -6.5,-10.6 M 0,-9.7 Q 3.25,-12.0 6.5,-10.6 M 0,-5.8 Q -4.25,-8.1 -8.5,-6.7 M 0,-5.8 Q 4.25,-8.1 8.5,-6.7 M 0,-1.9 Q -5.25,-4.2 -10.5,-2.8 M 0,-1.9 Q 5.25,-4.2 10.5,-2.8 M 0,4.7 Q -6.25,2.4000000000000004 -12.5,3.8000000000000003 M 0,4.7 Q 6.25,2.4000000000000004 12.5,3.8000000000000003 M 0,8.6 Q -6.75,6.3 -13.5,7.699999999999999 M 0,8.6 Q 6.75,6.3 13.5,7.699999999999999 M 0,13.2 Q -7.25,10.899999999999999 -14.5,12.299999999999999 M 0,13.2 Q 7.25,10.899999999999999 14.5,12.299999999999999 M 0,17.8 Q -7.5,15.5 -15,16.900000000000002 M 0,17.8 Q 7.5,15.5 15,16.900000000000002 " fill="none" stroke="#d4b66c" stroke-width="2.3" stroke-linecap="round" stroke-linejoin="round"/></g>
<g transform="translate(228.75,911.60) scale(0.79,1)"><text x="0" y="0" text-anchor="middle" style="font-family:'Liberation Sans',sans-serif" font-size="19" fill="#141414" stroke="#fdf2ef" stroke-width="0" textLength="35.67" lengthAdjust="spacing">tree</text></g>
<use href="#charm" x="305.3" y="860.2"/>
<g transform="translate(306.00,861.20)" opacity="0.9" filter="url(#soft)"><path d="M -15.3,-0.4 m -4.2,0 a 4.2,6 -20 1,0 8.4,0 a 4.2,6 -20 1,0 -8.4,0 M -6.4,-9.9 m -4.5,0 a 4.5,6.8 -10 1,0 9,0 a 4.5,6.8 -10 1,0 -9,0 M 6,-9.6 m -4.5,0 a 4.5,6.8 10 1,0 9,0 a 4.5,6.8 10 1,0 -9,0 M 13.9,1.2 m -4.2,0 a 4.2,6 20 1,0 8.4,0 a 4.2,6 20 1,0 -8.4,0 M -1,2.5 C 4,2.5 8,8 11,12 C 14,16 12,19.5 8,19 C 4,18.5 2,17.5 -1,17.5 C -4,17.5 -7,19.5 -10,19 C -14,18.5 -14,14.5 -11.5,11.5 C -8,7 -5,2.5 -1,2.5 Z" fill="none" stroke="#fffae6" stroke-width="2.2" stroke-linecap="round" stroke-linejoin="round"/></g><g transform="translate(305.30,860.20)" filter="url(#soft)"><path d="M -15.3,-0.4 m -4.2,0 a 4.2,6 -20 1,0 8.4,0 a 4.2,6 -20 1,0 -8.4,0 M -6.4,-9.9 m -4.5,0 a 4.5,6.8 -10 1,0 9,0 a 4.5,6.8 -10 1,0 -9,0 M 6,-9.6 m -4.5,0 a 4.5,6.8 10 1,0 9,0 a 4.5,6.8 10 1,0 -9,0 M 13.9,1.2 m -4.2,0 a 4.2,6 20 1,0 8.4,0 a 4.2,6 20 1,0 -8.4,0 M -1,2.5 C 4,2.5 8,8 11,12 C 14,16 12,19.5 8,19 C 4,18.5 2,17.5 -1,17.5 C -4,17.5 -7,19.5 -10,19 C -14,18.5 -14,14.5 -11.5,11.5 C -8,7 -5,2.5 -1,2.5 Z" fill="none" stroke="#d4b66c" stroke-width="2.2" stroke-linecap="round" stroke-linejoin="round"/></g>
<g transform="translate(303.00,911.60) scale(0.79,1)"><text x="0" y="0" text-anchor="middle" style="font-family:'Liberation Sans',sans-serif" font-size="19" fill="#141414" stroke="#fdf2ef" stroke-width="0" textLength="34.53" lengthAdjust="spacing">paw</text></g>
<use href="#charm" x="381.3" y="860.2"/>
<g transform="translate(382.00,861.20)" opacity="0.9" filter="url(#soft)"><path d="M -12.7,-11.9 L -4.5,-11.9 C -6,-9 -5,-4.7 0,-4.7 C 5,-4.7 6,-9 4.5,-11.9 L 13.9,-11.9 L 13.9,-2 C 17,-4 22.8,-3 22.8,2.2 C 22.8,7.5 17,8.5 13.9,6.5 L 13.9,17.6 L 4.5,17.6 C 6,14.5 5,10.4 0,10.4 C -5,10.4 -6,14.5 -4.5,17.6 L -12.7,17.6 L -12.7,6.5 C -16,8.5 -22.2,7.5 -22.2,2.2 C -22.2,-3 -16,-4 -12.7,-2 Z" fill="none" stroke="#fffae6" stroke-width="2.4" stroke-linecap="round" stroke-linejoin="round"/></g><g transform="translate(381.30,860.20)" filter="url(#soft)"><path d="M -12.7,-11.9 L -4.5,-11.9 C -6,-9 -5,-4.7 0,-4.7 C 5,-4.7 6,-9 4.5,-11.9 L 13.9,-11.9 L 13.9,-2 C 17,-4 22.8,-3 22.8,2.2 C 22.8,7.5 17,8.5 13.9,6.5 L 13.9,17.6 L 4.5,17.6 C 6,14.5 5,10.4 0,10.4 C -5,10.4 -6,14.5 -4.5,17.6 L -12.7,17.6 L -12.7,6.5 C -16,8.5 -22.2,7.5 -22.2,2.2 C -22.2,-3 -16,-4 -12.7,-2 Z" fill="none" stroke="#d4b66c" stroke-width="2.4" stroke-linecap="round" stroke-linejoin="round"/></g>
<g transform="translate(379.40,911.60) scale(0.79,1)"><text x="0" y="0" text-anchor="middle" style="font-family:'Liberation Sans',sans-serif" font-size="19" fill="#141414" stroke="#fdf2ef" stroke-width="0" textLength="54.18" lengthAdjust="spacing">puzzle</text></g>
<use href="#charm" x="457.3" y="860.2"/>
<g transform="translate(458.00,861.20)" opacity="0.9" filter="url(#soft)"><path d="M -26.8,8.5 A 26.7,21 0 0 1 26.7,8.5 M -22,8.5 A 22,17 0 0 1 22,8.5 M -17.8,8.5 A 17.8,12.8 0 0 1 17.8,8.5 M -13.5,8.5 A 13.5,8.5 0 0 1 13.5,8.5" fill="none" stroke="#fffae6" stroke-width="2.2" stroke-linecap="round" stroke-linejoin="round"/></g><g transform="translate(457.30,860.20)" filter="url(#soft)"><path d="M -26.8,8.5 A 26.7,21 0 0 1 26.7,8.5 M -22,8.5 A 22,17 0 0 1 22,8.5 M -17.8,8.5 A 17.8,12.8 0 0 1 17.8,8.5 M -13.5,8.5 A 13.5,8.5 0 0 1 13.5,8.5" fill="none" stroke="#d4b66c" stroke-width="2.2" stroke-linecap="round" stroke-linejoin="round"/></g>
<g transform="translate(458.40,911.60) scale(0.79,1)"><text x="0" y="0" text-anchor="middle" style="font-family:'Liberation Sans',sans-serif" font-size="19" fill="#141414" stroke="#fdf2ef" stroke-width="0" textLength="67.95" lengthAdjust="spacing">rainbow</text></g>
<use href="#charm" x="533.3" y="860.2"/>
<g transform="translate(534.00,861.20)" opacity="0.9" filter="url(#soft)"><path d="M 8.5,23 L -3,5 C -8,-3 -10.5,-8 -9,-13 C -7,-19 5,-19 6.5,-12.5" fill="none" stroke="#fffae6" stroke-width="9.4" stroke-linejoin="round"/><path d="M 8.5,23 L -3,5 C -8,-3 -10.5,-8 -9,-13 C -7,-19 5,-19 6.5,-12.5" fill="none" stroke="#f2da8f" stroke-width="5.6" stroke-linejoin="round"/><path d="M 6.5,-12.5 C 7.5,-6 5,-1 1,4.5 L -10.5,22.5" fill="none" stroke="#fffae6" stroke-width="9.4" stroke-linejoin="round"/><path d="M 6.5,-12.5 C 7.5,-6 5,-1 1,4.5 L -10.5,22.5" fill="none" stroke="#f2da8f" stroke-width="5.6" stroke-linejoin="round"/></g><g transform="translate(533.30,860.20)" filter="url(#soft)"><path d="M 8.5,23 L -3,5 C -8,-3 -10.5,-8 -9,-13 C -7,-19 5,-19 6.5,-12.5" fill="none" stroke="#d4b66c" stroke-width="9.4" stroke-linejoin="round"/><path d="M 8.5,23 L -3,5 C -8,-3 -10.5,-8 -9,-13 C -7,-19 5,-19 6.5,-12.5" fill="none" stroke="#f2da8f" stroke-width="5.6" stroke-linejoin="round"/><path d="M 6.5,-12.5 C 7.5,-6 5,-1 1,4.5 L -10.5,22.5" fill="none" stroke="#d4b66c" stroke-width="9.4" stroke-linejoin="round"/><path d="M 6.5,-12.5 C 7.5,-6 5,-1 1,4.5 L -10.5,22.5" fill="none" stroke="#f2da8f" stroke-width="5.6" stroke-linejoin="round"/></g>
<g transform="translate(535.30,911.60) scale(0.79,1)"><text x="0" y="0" text-anchor="middle" style="font-family:'Liberation Sans',sans-serif" font-size="19" fill="#141414" stroke="#fdf2ef" stroke-width="0" textLength="55.59" lengthAdjust="spacing">ribbon</text></g>
<use href="#charm" x="609.3" y="860.2"/>
<g transform="translate(610.00,861.20)" opacity="0.9" filter="url(#soft)"><path d="M -29.5,5.5 C -20,6 -14,5 -9,-1 C -4,-8 -1,-10 3,-10 C 8,-10 9,-7 8,-5 C 3,-6 1,-1 4,3 C 7,6 12,6 16,4 C 20,2 24,2 28,1.5" fill="none" stroke="#fffae6" stroke-width="2.6" stroke-linecap="round" stroke-linejoin="round"/></g><g transform="translate(609.30,860.20)" filter="url(#soft)"><path d="M -29.5,5.5 C -20,6 -14,5 -9,-1 C -4,-8 -1,-10 3,-10 C 8,-10 9,-7 8,-5 C 3,-6 1,-1 4,3 C 7,6 12,6 16,4 C 20,2 24,2 28,1.5" fill="none" stroke="#d4b66c" stroke-width="2.6" stroke-linecap="round" stroke-linejoin="round"/></g>
<g transform="translate(609.00,911.60) scale(0.79,1)"><text x="0" y="0" text-anchor="middle" style="font-family:'Liberation Sans',sans-serif" font-size="19" fill="#141414" stroke="#fdf2ef" stroke-width="0" textLength="42.38" lengthAdjust="spacing">wave</text></g>
<use href="#charm" x="685.3" y="860.2"/>
<g transform="translate(686.00,861.20)" opacity="0.9" filter="url(#soft)"><path d="M -12.5,-7.8 L 0.5,-20 L 12.6,-7.5 M -12.5,5.7 L 0.5,-6.5 L 12.6,6 M -12.5,19.2 L 0.5,7 L 12.6,19.5" fill="none" stroke="#fffae6" stroke-width="2.5" stroke-linecap="round" stroke-linejoin="round"/></g><g transform="translate(685.30,860.20)" filter="url(#soft)"><path d="M -12.5,-7.8 L 0.5,-20 L 12.6,-7.5 M -12.5,5.7 L 0.5,-6.5 L 12.6,6 M -12.5,19.2 L 0.5,7 L 12.6,19.5" fill="none" stroke="#d4b66c" stroke-width="2.5" stroke-linecap="round" stroke-linejoin="round"/></g>
<g transform="translate(685.10,905.60) scale(0.92,1)"><text x="0" y="0" text-anchor="middle" style="font-family:'Liberation Sans',sans-serif" font-size="11" fill="#2a2a2a" stroke="#fdf2ef" stroke-width="0" textLength="27.83" lengthAdjust="spacing">down</text></g>
<g transform="translate(685.20,915.50) scale(0.92,1)"><text x="0" y="0" text-anchor="middle" style="font-family:'Liberation Sans',sans-serif" font-size="11" fill="#2a2a2a" stroke="#fdf2ef" stroke-width="0" textLength="49.78" lengthAdjust="spacing">syndrome</text></g>
<use href="#charm" x="761.3" y="860.2"/>
<g transform="translate(762.00,861.20)" opacity="0.9" filter="url(#soft)"><clipPath id="pcfffae6"><ellipse cx="0.5" cy="10.4" rx="12" ry="14.9"/></clipPath><path d="M 0.5,-5.3 m -12.8,15.7 a 12.8,15.7 0 1,0 25.6,0 a 12.8,15.7 0 1,0 -25.6,0 " fill="none" stroke="#fffae6" stroke-width="2.1"/><path d="M -36.5,-4.0 L -8.5,26.0 M -8.5,-4.0 L -36.5,26.0 M -29.0,-4.0 L -1.0,26.0 M -1.0,-4.0 L -29.0,26.0 M -21.5,-4.0 L 6.5,26.0 M 6.5,-4.0 L -21.5,26.0 M -14.0,-4.0 L 14.0,26.0 M 14.0,-4.0 L -14.0,26.0 M -6.5,-4.0 L 21.5,26.0 M 21.5,-4.0 L -6.5,26.0 M 1.0,-4.0 L 29.0,26.0 M 29.0,-4.0 L 1.0,26.0 M 8.5,-4.0 L 36.5,26.0 M 36.5,-4.0 L 8.5,26.0 " fill="none" stroke="#fffae6" stroke-width="1.8" clip-path="url(#pcfffae6)"/><path d="M 0.0,-5.0 Q -6.5,-12.6 -16.0,-16.0 Q -9.5,-8.4 0.0,-5.0 Z M 0.0,-5.0 Q -2.5,-14.5 -9.5,-21.5 Q -7.0,-12.0 0.0,-5.0 Z M 0.0,-5.0 Q 2.1,-14.1 -0.5,-23.0 Q -2.6,-13.9 0.0,-5.0 Z M 0.0,-5.0 Q 6.1,-12.2 7.5,-21.5 Q 1.4,-14.3 0.0,-5.0 Z M 0.0,-5.0 Q 8.8,-8.4 14.5,-16.0 Q 5.7,-12.6 0.0,-5.0 Z " fill="none" stroke="#fffae6" stroke-width="1.9" stroke-linejoin="round"/></g><g transform="translate(761.30,860.20)" filter="url(#soft)"><clipPath id="pcd4b66c"><ellipse cx="0.5" cy="10.4" rx="12" ry="14.9"/></clipPath><path d="M 0.5,-5.3 m -12.8,15.7 a 12.8,15.7 0 1,0 25.6,0 a 12.8,15.7 0 1,0 -25.6,0 " fill="none" stroke="#d4b66c" stroke-width="2.1"/><path d="M -36.5,-4.0 L -8.5,26.0 M -8.5,-4.0 L -36.5,26.0 M -29.0,-4.0 L -1.0,26.0 M -1.0,-4.0 L -29.0,26.0 M -21.5,-4.0 L 6.5,26.0 M 6.5,-4.0 L -21.5,26.0 M -14.0,-4.0 L 14.0,26.0 M 14.0,-4.0 L -14.0,26.0 M -6.5,-4.0 L 21.5,26.0 M 21.5,-4.0 L -6.5,26.0 M 1.0,-4.0 L 29.0,26.0 M 29.0,-4.0 L 1.0,26.0 M 8.5,-4.0 L 36.5,26.0 M 36.5,-4.0 L 8.5,26.0 " fill="none" stroke="#d4b66c" stroke-width="1.8" clip-path="url(#pcd4b66c)"/><path d="M 0.0,-5.0 Q -6.5,-12.6 -16.0,-16.0 Q -9.5,-8.4 0.0,-5.0 Z M 0.0,-5.0 Q -2.5,-14.5 -9.5,-21.5 Q -7.0,-12.0 0.0,-5.0 Z M 0.0,-5.0 Q 2.1,-14.1 -0.5,-23.0 Q -2.6,-13.9 0.0,-5.0 Z M 0.0,-5.0 Q 6.1,-12.2 7.5,-21.5 Q 1.4,-14.3 0.0,-5.0 Z M 0.0,-5.0 Q 8.8,-8.4 14.5,-16.0 Q 5.7,-12.6 0.0,-5.0 Z " fill="none" stroke="#d4b66c" stroke-width="1.9" stroke-linejoin="round"/></g>
<g transform="translate(762.00,911.60) scale(0.79,1)"><text x="0" y="0" text-anchor="middle" style="font-family:'Liberation Sans',sans-serif" font-size="19" fill="#141414" stroke="#fdf2ef" stroke-width="0" textLength="81.90" lengthAdjust="spacing">pineapple</text></g>
<use href="#charm" x="837.3" y="860.2"/>
<g transform="translate(838.00,861.20)" opacity="0.9" filter="url(#soft)"><path d="M -12.5,-12.5 L -16.3,-26 L -8.7,-16.5 M -14.6,-20.5 L -11.2,-19.2 M -13.6,-16.8 L -10.5,-15.6 M -12.5,-12.5 C -10,-16 -6,-18 -2,-17 C 1,-16 1,-13 -1,-12 C -3,-11 -5,-13 -3,-15 M -12.5,-12.5 C -14,-8 -16,-4 -18.5,-1 C -20.5,1.5 -20.5,5.5 -17.5,7 C -14,8.5 -9,7.5 -4,6.5 M -2.2,6 C -2.5,12 -3,20 -3,25.5 C 3,23 10,20 15.6,17 M -2,-17 C 2,-21 9,-21 12.9,-17 C 16,-14 17,-10 16.9,-8 C 19,-4 19.5,0 18.9,2.6 C 19.5,6 19,9 18.2,11.7 C 17.5,14 16.5,16 15.6,17 M 2,-13 C 6,-15 10,-13 11,-9 C 12,-5 10,-2 12,2 C 14,5 14,9 12,12 M 5,-6 C 7,-2 6,2 8,5 M 3,2 C 3,7 5,10 7,13 M -8.5,-4.5 C -6.5,-2.5 -3.5,-2.5 -2,-4 M -18.2,3 a 1.2,1.2 0 1,0 2.4,0 a 1.2,1.2 0 1,0 -2.4,0" fill="none" stroke="#fffae6" stroke-width="2.0" stroke-linecap="round" stroke-linejoin="round"/></g><g transform="translate(837.30,860.20)" filter="url(#soft)"><path d="M -12.5,-12.5 L -16.3,-26 L -8.7,-16.5 M -14.6,-20.5 L -11.2,-19.2 M -13.6,-16.8 L -10.5,-15.6 M -12.5,-12.5 C -10,-16 -6,-18 -2,-17 C 1,-16 1,-13 -1,-12 C -3,-11 -5,-13 -3,-15 M -12.5,-12.5 C -14,-8 -16,-4 -18.5,-1 C -20.5,1.5 -20.5,5.5 -17.5,7 C -14,8.5 -9,7.5 -4,6.5 M -2.2,6 C -2.5,12 -3,20 -3,25.5 C 3,23 10,20 15.6,17 M -2,-17 C 2,-21 9,-21 12.9,-17 C 16,-14 17,-10 16.9,-8 C 19,-4 19.5,0 18.9,2.6 C 19.5,6 19,9 18.2,11.7 C 17.5,14 16.5,16 15.6,17 M 2,-13 C 6,-15 10,-13 11,-9 C 12,-5 10,-2 12,2 C 14,5 14,9 12,12 M 5,-6 C 7,-2 6,2 8,5 M 3,2 C 3,7 5,10 7,13 M -8.5,-4.5 C -6.5,-2.5 -3.5,-2.5 -2,-4 M -18.2,3 a 1.2,1.2 0 1,0 2.4,0 a 1.2,1.2 0 1,0 -2.4,0" fill="none" stroke="#d4b66c" stroke-width="2.0" stroke-linecap="round" stroke-linejoin="round"/></g>
<g transform="translate(835.50,911.00) scale(0.79,1)"><text x="0" y="0" text-anchor="middle" style="font-family:'Liberation Sans',sans-serif" font-size="19" fill="#141414" stroke="#fdf2ef" stroke-width="0" textLength="65.85" lengthAdjust="spacing">unicorn</text></g>
<use href="#charm" x="229.3" y="968.5"/>
<g transform="translate(230.00,969.50)" opacity="0.9" filter="url(#soft)"><path d="M -25.8,6.8 L -16.6,-3.7 L -9.4,4.8 L -0.9,-12.2 L 6.4,-2.3 L 14.2,-8.2 L 24.7,6.8" fill="none" stroke="#fffae6" stroke-width="2.5" stroke-linecap="round" stroke-linejoin="round"/></g><g transform="translate(229.30,968.50)" filter="url(#soft)"><path d="M -25.8,6.8 L -16.6,-3.7 L -9.4,4.8 L -0.9,-12.2 L 6.4,-2.3 L 14.2,-8.2 L 24.7,6.8" fill="none" stroke="#d4b66c" stroke-width="2.5" stroke-linecap="round" stroke-linejoin="round"/></g>
<g transform="translate(228.00,1020.80) scale(0.79,1)"><text x="0" y="0" text-anchor="middle" style="font-family:'Liberation Sans',sans-serif" font-size="19" fill="#141414" stroke="#fdf2ef" stroke-width="0" textLength="81.65" lengthAdjust="spacing">mountain</text></g>
<use href="#charm" x="305.3" y="968.5"/>
<g transform="translate(306.00,969.50)" opacity="0.9" filter="url(#soft)"><path d="M -4.8,-9.3 C 3,-10 10,-7 9.3,-1 C 9,4 1,5 0,9 C -1,13 7,15 6.4,20 C 6,24 1,25.5 -2,24.5 C -8,23 -13,16 -14.6,9 C -16,2 -13,-8 -4.8,-9.3 Z M -22.0,-6.9 a 2.4,2.4 0 1,0 4.8,0 a 2.4,2.4 0 1,0 -4.8,0 M -18.1,-12.8 a 2.8,2.8 0 1,0 5.6,0 a 2.8,2.8 0 1,0 -5.6,0 M -12.2,-16.5 a 3.2,3.2 0 1,0 6.4,0 a 3.2,3.2 0 1,0 -6.4,0 M -4.3,-18.4 a 3.5,3.5 0 1,0 7.0,0 a 3.5,3.5 0 1,0 -7.0,0 M 4.800000000000001,-16.5 a 4.6,4.6 0 1,0 9.2,0 a 4.6,4.6 0 1,0 -9.2,0 " fill="none" stroke="#fffae6" stroke-width="2.1" stroke-linecap="round" stroke-linejoin="round"/></g><g transform="translate(305.30,968.50)" filter="url(#soft)"><path d="M -4.8,-9.3 C 3,-10 10,-7 9.3,-1 C 9,4 1,5 0,9 C -1,13 7,15 6.4,20 C 6,24 1,25.5 -2,24.5 C -8,23 -13,16 -14.6,9 C -16,2 -13,-8 -4.8,-9.3 Z M -22.0,-6.9 a 2.4,2.4 0 1,0 4.8,0 a 2.4,2.4 0 1,0 -4.8,0 M -18.1,-12.8 a 2.8,2.8 0 1,0 5.6,0 a 2.8,2.8 0 1,0 -5.6,0 M -12.2,-16.5 a 3.2,3.2 0 1,0 6.4,0 a 3.2,3.2 0 1,0 -6.4,0 M -4.3,-18.4 a 3.5,3.5 0 1,0 7.0,0 a 3.5,3.5 0 1,0 -7.0,0 M 4.800000000000001,-16.5 a 4.6,4.6 0 1,0 9.2,0 a 4.6,4.6 0 1,0 -9.2,0 " fill="none" stroke="#d4b66c" stroke-width="2.1" stroke-linecap="round" stroke-linejoin="round"/></g>
<g transform="translate(302.30,1020.80) scale(0.79,1)"><text x="0" y="0" text-anchor="middle" style="font-family:'Liberation Sans',sans-serif" font-size="19" fill="#141414" stroke="#fdf2ef" stroke-width="0" textLength="32.91" lengthAdjust="spacing">foot</text></g>
<use href="#charm" x="381.3" y="968.5"/>
<g transform="translate(382.00,969.50)" opacity="0.9" filter="url(#soft)"><path d="M -10.4,-9.9 a 9.5,3.4 0 1,0 19,0 a 9.5,3.4 0 1,0 -19,0 " fill="none" stroke="#fffae6" stroke-width="2.1"/><path d="M -25.1,-12.9 C -18,-8 -8,-5 -3.5,2.2 C -1.5,5 -1.5,10 -5,13 C -9,15 -14,13 -17,10 C -21,7 -24,1 -25.1,-12.9 Z M -21.5,1.3 C -17,1.5 -13,2.5 -10.5,4.5 M -18.5,7 C -15,7.3 -12,8.5 -9.5,10.5" fill="none" stroke="#fffae6" stroke-width="2.1" stroke-linejoin="round" stroke-linecap="round"/><path d="M -25.1,-12.9 C -18,-8 -8,-5 -3.5,2.2 C -1.5,5 -1.5,10 -5,13 C -9,15 -14,13 -17,10 C -21,7 -24,1 -25.1,-12.9 Z M -21.5,1.3 C -17,1.5 -13,2.5 -10.5,4.5 M -18.5,7 C -15,7.3 -12,8.5 -9.5,10.5" transform="translate(-1.8,0) scale(-1,1)" fill="none" stroke="#fffae6" stroke-width="2.1" stroke-linejoin="round" stroke-linecap="round"/></g><g transform="translate(381.30,968.50)" filter="url(#soft)"><path d="M -10.4,-9.9 a 9.5,3.4 0 1,0 19,0 a 9.5,3.4 0 1,0 -19,0 " fill="none" stroke="#d4b66c" stroke-width="2.1"/><path d="M -25.1,-12.9 C -18,-8 -8,-5 -3.5,2.2 C -1.5,5 -1.5,10 -5,13 C -9,15 -14,13 -17,10 C -21,7 -24,1 -25.1,-12.9 Z M -21.5,1.3 C -17,1.5 -13,2.5 -10.5,4.5 M -18.5,7 C -15,7.3 -12,8.5 -9.5,10.5" fill="none" stroke="#d4b66c" stroke-width="2.1" stroke-linejoin="round" stroke-linecap="round"/><path d="M -25.1,-12.9 C -18,-8 -8,-5 -3.5,2.2 C -1.5,5 -1.5,10 -5,13 C -9,15 -14,13 -17,10 C -21,7 -24,1 -25.1,-12.9 Z M -21.5,1.3 C -17,1.5 -13,2.5 -10.5,4.5 M -18.5,7 C -15,7.3 -12,8.5 -9.5,10.5" transform="translate(-1.8,0) scale(-1,1)" fill="none" stroke="#d4b66c" stroke-width="2.1" stroke-linejoin="round" stroke-linecap="round"/></g>
<g transform="translate(378.70,1020.50) scale(0.79,1)"><text x="0" y="0" text-anchor="middle" style="font-family:'Liberation Sans',sans-serif" font-size="19" fill="#141414" stroke="#fdf2ef" stroke-width="0" textLength="47.59" lengthAdjust="spacing">angel</text></g>
<g transform="translate(378.90,1036.10) scale(0.79,1)"><text x="0" y="0" text-anchor="middle" style="font-family:'Liberation Sans',sans-serif" font-size="19" fill="#141414" stroke="#fdf2ef" stroke-width="0" textLength="48.25" lengthAdjust="spacing">wings</text></g>
<use href="#charm" x="457.3" y="968.5"/>
<g transform="translate(458.00,969.50)" opacity="0.9" filter="url(#soft)"><path d="M -0.9,-12.5 m -4.3,0 a 4.3,4.3 0 1,0 8.6,0 a 4.3,4.3 0 1,0 -8.6,0 M -1.2,-1 C 2,-1.5 4,1 3.5,4 C 3,8 -1,13 -6.8,16 C -4,12 -3,9 -3.5,7 C -6,6 -6,-0.5 -1.2,-1 Z" fill="#fffae6"/></g><g transform="translate(457.30,968.50)" filter="url(#soft)"><path d="M -0.9,-12.5 m -4.3,0 a 4.3,4.3 0 1,0 8.6,0 a 4.3,4.3 0 1,0 -8.6,0 M -1.2,-1 C 2,-1.5 4,1 3.5,4 C 3,8 -1,13 -6.8,16 C -4,12 -3,9 -3.5,7 C -6,6 -6,-0.5 -1.2,-1 Z" fill="#d4b66c"/></g>
<g transform="translate(455.50,1020.50) scale(0.79,1)"><text x="0" y="0" text-anchor="middle" style="font-family:'Liberation Sans',sans-serif" font-size="19" fill="#141414" stroke="#fdf2ef" stroke-width="0" textLength="40.41" lengthAdjust="spacing">semi</text></g>
<g transform="translate(456.10,1036.10) scale(0.79,1)"><text x="0" y="0" text-anchor="middle" style="font-family:'Liberation Sans',sans-serif" font-size="19" fill="#141414" stroke="#fdf2ef" stroke-width="0" textLength="47.47" lengthAdjust="spacing">colon</text></g>
<use href="#charm" x="533.3" y="968.5"/>
<g transform="translate(534.00,969.50)" opacity="0.9" filter="url(#soft)"><path d="M -19.2,-10 L -27.1,-1.6 L -19.2,6.3 L -14.5,1.5 M -20,-1.6 L -13,-1.6 M -10.7,-10 L -5.7,-1.6 L -10.7,6.3 M -2.3,6.9 L 5.6,-10 L 12.3,6.9 M 10.5,-10 L 17.8,6.9 L 26.4,-10" fill="none" stroke="#fffae6" stroke-width="2.5" stroke-linecap="round" stroke-linejoin="round"/></g><g transform="translate(533.30,968.50)" filter="url(#soft)"><path d="M -19.2,-10 L -27.1,-1.6 L -19.2,6.3 L -14.5,1.5 M -20,-1.6 L -13,-1.6 M -10.7,-10 L -5.7,-1.6 L -10.7,6.3 M -2.3,6.9 L 5.6,-10 L 12.3,6.9 M 10.5,-10 L 17.8,6.9 L 26.4,-10" fill="none" stroke="#d4b66c" stroke-width="2.5" stroke-linecap="round" stroke-linejoin="round"/></g>
<g transform="translate(534.90,1020.50) scale(0.79,1)"><text x="0" y="0" text-anchor="middle" style="font-family:'Liberation Sans',sans-serif" font-size="19" fill="#141414" stroke="#fdf2ef" stroke-width="0" textLength="50.86" lengthAdjust="spacing">god is</text></g>
<g transform="translate(534.70,1036.10) scale(0.79,1)"><text x="0" y="0" text-anchor="middle" style="font-family:'Liberation Sans',sans-serif" font-size="19" fill="#141414" stroke="#fdf2ef" stroke-width="0" textLength="62.78" lengthAdjust="spacing">greater</text></g>
<use href="#charm" x="609.3" y="968.5"/>
<g transform="translate(610.00,969.50)" opacity="0.9" filter="url(#soft)"><path d="M -23,-16.5 C -12,-15 -2,-10 1,-2 C 3,4 -3,5 -7,2 C -13,-3 -18,-10 -23,-16.5 Z M 24.7,-10.8 C 16,-11 9,-13 5,-12 C 1,-10 2,-6 3,-2 C 4,4 -2,8 -6,11 C -9,13 -12,15 -14,18.5 M 24.7,-10.8 C 17,-9 11,-8 9,-4 C 7,1 6,6 1,11 C -3,14 -9,15 -14,18.5" fill="none" stroke="#fffae6" stroke-width="2.2" stroke-linecap="round" stroke-linejoin="round"/></g><g transform="translate(609.30,968.50)" filter="url(#soft)"><path d="M -23,-16.5 C -12,-15 -2,-10 1,-2 C 3,4 -3,5 -7,2 C -13,-3 -18,-10 -23,-16.5 Z M 24.7,-10.8 C 16,-11 9,-13 5,-12 C 1,-10 2,-6 3,-2 C 4,4 -2,8 -6,11 C -9,13 -12,15 -14,18.5 M 24.7,-10.8 C 17,-9 11,-8 9,-4 C 7,1 6,6 1,11 C -3,14 -9,15 -14,18.5" fill="none" stroke="#d4b66c" stroke-width="2.2" stroke-linecap="round" stroke-linejoin="round"/></g>
<g transform="translate(608.50,1020.50) scale(0.79,1)"><text x="0" y="0" text-anchor="middle" style="font-family:'Liberation Sans',sans-serif" font-size="19" fill="#141414" stroke="#fdf2ef" stroke-width="0" textLength="81.39" lengthAdjust="spacing">humming</text></g>
<g transform="translate(608.10,1036.10) scale(0.79,1)"><text x="0" y="0" text-anchor="middle" style="font-family:'Liberation Sans',sans-serif" font-size="19" fill="#141414" stroke="#fdf2ef" stroke-width="0" textLength="33.01" lengthAdjust="spacing">bird</text></g>
<use href="#charm" x="685.3" y="968.5"/>
<g transform="translate(686.00,969.50)" opacity="0.9" filter="url(#soft)"><path d="M -0.70,-20.70 L 5.06,-7.63 L 19.27,-6.19 L 8.62,3.33 L 11.64,17.29 L -0.70,10.10 L -13.04,17.29 L -10.02,3.33 L -20.67,-6.19 L -6.46,-7.63 Z" fill="none" stroke="#fffae6" stroke-width="2.4" stroke-linecap="round" stroke-linejoin="round"/></g><g transform="translate(685.30,968.50)" filter="url(#soft)"><path d="M -0.70,-20.70 L 5.06,-7.63 L 19.27,-6.19 L 8.62,3.33 L 11.64,17.29 L -0.70,10.10 L -13.04,17.29 L -10.02,3.33 L -20.67,-6.19 L -6.46,-7.63 Z" fill="none" stroke="#d4b66c" stroke-width="2.4" stroke-linecap="round" stroke-linejoin="round"/></g>
<g transform="translate(686.00,1020.80) scale(0.79,1)"><text x="0" y="0" text-anchor="middle" style="font-family:'Liberation Sans',sans-serif" font-size="19" fill="#141414" stroke="#fdf2ef" stroke-width="0" textLength="34.23" lengthAdjust="spacing">star</text></g>
<use href="#charm" x="761.3" y="968.5"/>
<g transform="translate(762.00,969.50)" opacity="0.9" filter="url(#soft)"><path d="M -7.5,-20.5 C -19,-15 -21,4 -10,13 C -1,20 14,19 20.8,7 C 10,10 -1,6 -4,0 C -7,-6 -8,-14 -7.5,-20.5 Z" fill="none" stroke="#fffae6" stroke-width="2.4" stroke-linecap="round" stroke-linejoin="round"/></g><g transform="translate(761.30,968.50)" filter="url(#soft)"><path d="M -7.5,-20.5 C -19,-15 -21,4 -10,13 C -1,20 14,19 20.8,7 C 10,10 -1,6 -4,0 C -7,-6 -8,-14 -7.5,-20.5 Z" fill="none" stroke="#d4b66c" stroke-width="2.4" stroke-linecap="round" stroke-linejoin="round"/></g>
<g transform="translate(761.70,1020.80) scale(0.79,1)"><text x="0" y="0" text-anchor="middle" style="font-family:'Liberation Sans',sans-serif" font-size="19" fill="#141414" stroke="#fdf2ef" stroke-width="0" textLength="49.57" lengthAdjust="spacing">moon</text></g>
<use href="#charm" x="837.3" y="968.5"/>
<g transform="translate(838.00,969.50)" opacity="0.9" filter="url(#soft)"><path d="M -10.5,-0.4 a 9.6,9.6 0 1,0 19.2,0 a 9.6,9.6 0 1,0 -19.2,0 M 13.60,-0.40 L 21.60,-0.40 M 9.35,9.85 L 15.01,15.51 M -0.90,14.10 L -0.90,22.10 M -11.15,9.85 L -16.81,15.51 M -15.40,-0.40 L -23.40,-0.40 M -11.15,-10.65 L -16.81,-16.31 M -0.90,-14.90 L -0.90,-22.90 M 9.35,-10.65 L 15.01,-16.31 " fill="none" stroke="#fffae6" stroke-width="2.4" stroke-linecap="round" stroke-linejoin="round"/></g><g transform="translate(837.30,968.50)" filter="url(#soft)"><path d="M -10.5,-0.4 a 9.6,9.6 0 1,0 19.2,0 a 9.6,9.6 0 1,0 -19.2,0 M 13.60,-0.40 L 21.60,-0.40 M 9.35,9.85 L 15.01,15.51 M -0.90,14.10 L -0.90,22.10 M -11.15,9.85 L -16.81,15.51 M -15.40,-0.40 L -23.40,-0.40 M -11.15,-10.65 L -16.81,-16.31 M -0.90,-14.90 L -0.90,-22.90 M 9.35,-10.65 L 15.01,-16.31 " fill="none" stroke="#d4b66c" stroke-width="2.4" stroke-linecap="round" stroke-linejoin="round"/></g>
<g transform="translate(834.70,1020.80) scale(0.79,1)"><text x="0" y="0" text-anchor="middle" style="font-family:'Liberation Sans',sans-serif" font-size="19" fill="#141414" stroke="#fdf2ef" stroke-width="0" textLength="31.85" lengthAdjust="spacing">sun</text></g></svg>
</body></html>
